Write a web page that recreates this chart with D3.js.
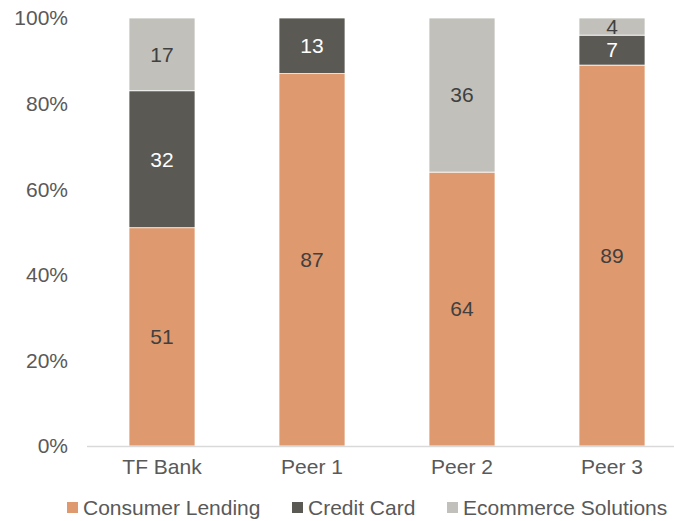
<!DOCTYPE html>
<html><head><meta charset="utf-8">
<script src="https://cdn.jsdelivr.net/npm/d3@7"></script>
<style>body{margin:0;background:#fff}svg{display:block}</style>
</head><body>
<script>
const categories = ["TF Bank", "Peer 1", "Peer 2", "Peer 3"];
const seriesNames = ["Consumer Lending", "Credit Card", "Ecommerce Solutions"];
const consumerLending = [51, 87, 64, 89];
const creditCard = [32, 13, 0, 7];
const ecommerce = [17, 0, 36, 4];
const yTicks = [0, 20, 40, 60, 80, 100];
const colors = ["#DE996F", "#5A5953", "#C1C0BB"];
const labelColors = ["#404040", "#ffffff", "#404040"];

const W = 674, H = 521;
const svg = d3.select("body").append("svg").attr("width", W).attr("height", H);
const font = "Liberation Sans, Arial, sans-serif";

const x = d3.scaleBand().domain(categories).range([87, 687]).paddingInner(0.56).paddingOuter(0.28);
const y = d3.scaleLinear().domain([0, 100]).range([446, 18]);

const rows = categories.map((c, i) => ({cat: c, "Consumer Lending": consumerLending[i], "Credit Card": creditCard[i], "Ecommerce Solutions": ecommerce[i]}));
const stacked = d3.stack().keys(seriesNames)(rows);

// y tick labels
svg.append("g").selectAll("text").data(yTicks).join("text")
  .attr("x", 68).attr("y", d => y(d)).attr("dy", "0.35em")
  .attr("text-anchor", "end").attr("font-family", font).attr("font-size", 21).attr("fill", "#595959")
  .text(d => d + "%");

stacked.forEach((s, si) => {
  const g = svg.append("g");
  g.selectAll("rect").data(s.filter(d => d[1] - d[0] > 0)).join("rect")
    .attr("x", d => x(d.data.cat)).attr("width", x.bandwidth())
    .attr("y", d => y(d[1])).attr("height", d => y(d[0]) - y(d[1]))
    .attr("fill", colors[si]).attr("stroke", "#fff").attr("stroke-width", 0.75);
  g.selectAll("text").data(s.filter(d => d[1] - d[0] > 0)).join("text")
    .attr("x", d => x(d.data.cat) + x.bandwidth() / 2)
    .attr("y", d => (y(d[0]) + y(d[1])) / 2).attr("dy", "0.35em")
    .attr("text-anchor", "middle").attr("font-family", font).attr("font-size", 21)
    .attr("fill", labelColors[si])
    .text(d => d[1] - d[0]);
});

// x axis line
svg.append("line").attr("x1", 87).attr("x2", 687).attr("y1", 446.5).attr("y2", 446.5)
  .attr("stroke", "#D9D9D9").attr("stroke-width", 1.5);

svg.append("g").selectAll("text").data(categories).join("text")
  .attr("x", d => x(d) + x.bandwidth() / 2).attr("y", 474)
  .attr("text-anchor", "middle").attr("font-family", font).attr("font-size", 21).attr("fill", "#595959")
  .text(d => d);

// legend
const legendX = [67, 292, 447];
const lg = svg.append("g");
seriesNames.forEach((n, i) => {
  lg.append("rect").attr("x", legendX[i]).attr("y", 502).attr("width", 11).attr("height", 11).attr("fill", colors[i]);
  lg.append("text").attr("x", legendX[i] + 16).attr("y", 508).attr("dy", "0.35em")
    .attr("font-family", font).attr("font-size", 21).attr("fill", "#595959").text(n);
});
</script>
</body></html>
